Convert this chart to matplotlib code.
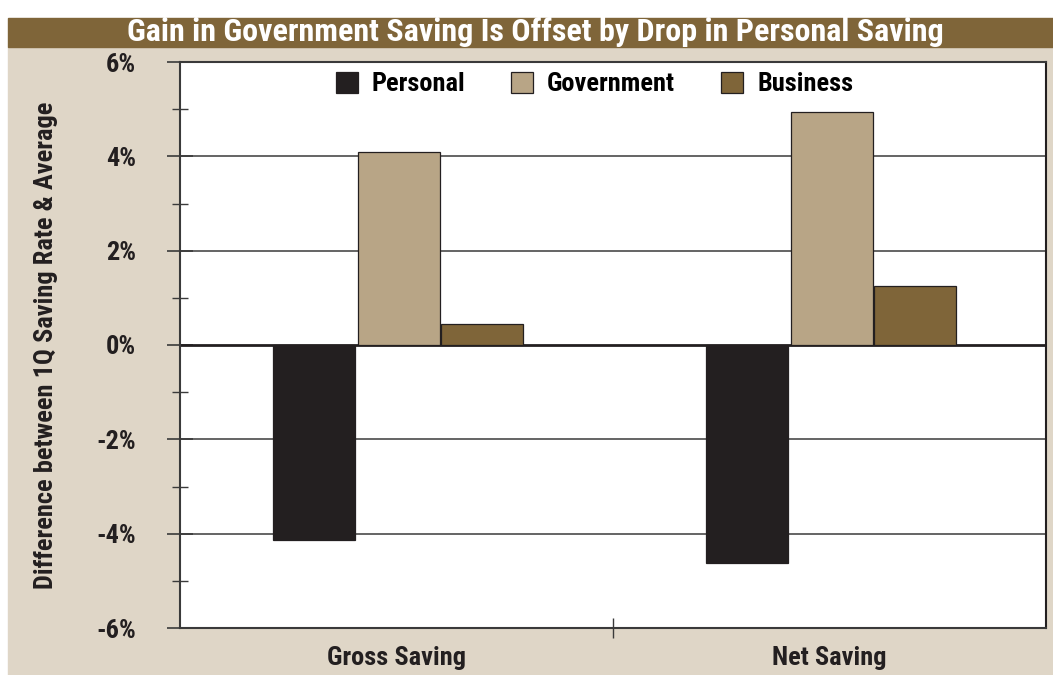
import matplotlib.pyplot as plt
import matplotlib.patches as mpatches
import numpy as np

plt.rcParams['font.family'] = ['Roboto Condensed', 'DejaVu Sans']
plt.rcParams['font.weight'] = 'bold'

categories = ['Gross Saving', 'Net Saving']
series = ['Personal', 'Government', 'Business']
personal = [-4.13, -4.63]
government = [4.1, 4.93]
business = [0.45, 1.25]
colors = ['#231F20', '#B8A586', '#7F6539']

bg = '#DFD6C7'
fig = plt.figure(figsize=(10.53, 6.75), dpi=100)

# beige panel and brown title bar
fig.patches.append(mpatches.Rectangle((8/1053, 0), 1, 628/675, transform=fig.transFigure,
                                      color=bg, zorder=-2))
fig.patches.append(mpatches.Rectangle((8/1053, 628/675), 1, 29/675, transform=fig.transFigure,
                                      color='#7F6539', zorder=-2))
fig.text(535/1053, 643/675, 'Gain in Government Saving Is Offset by Drop in Personal Saving',
         color='white', fontsize=23, fontweight='bold', ha='center', va='center')

ax = fig.add_axes([180/1053, 47/675, 866/1053, 566/675])
ax.set_facecolor('white')

x = np.arange(len(categories))
w = 0.19
offs = [-0.19, 0.005, 0.198]
for vals, off, c, name in zip([personal, government, business], offs, colors, series):
    ax.bar(x + off, vals, w, color=c, edgecolor='#231F20', linewidth=0.9, label=name, zorder=3)

ax.set_xlim(-0.5, 1.5)
ax.set_ylim(-6, 6)
ax.set_yticks(np.arange(-6, 7, 2))
ax.set_yticks(np.arange(-5, 6, 2), minor=True)
ax.set_yticklabels([f'{v}%' for v in range(-6, 7, 2)])
for v in [-4, -2, 2, 4]:
    ax.axhline(v, color='#3a3a3a', linewidth=1.1, zorder=1)
ax.axhline(0, color='#231F20', linewidth=2, zorder=2)

ax.set_xticks([0.5], minor=True)
ax.set_xticks(x)
ax.set_xticklabels(categories)
ax.tick_params(axis='x', which='major', length=0, pad=13, labelsize=19)
ax.tick_params(axis='x', which='minor', direction='inout', length=14, width=1, color='#3a3a3a')
ax.tick_params(axis='y', which='major', direction='inout', length=19, width=1.2,
               color='#3a3a3a', pad=22, labelsize=19)
ax.tick_params(axis='y', which='minor', direction='inout', length=12, width=1, color='#3a3a3a')
for t in ax.get_xticklabels() + ax.get_yticklabels():
    t.set_fontweight('bold')
    t.set_color('#231F20')

for s in ax.spines.values():
    s.set_color('#3a3a3a')
    s.set_linewidth(1.5)
ax.spines['right'].set_color('#231F20')

ax.set_ylabel('Difference between 1Q Saving Rate & Average', fontsize=19,
              fontweight='bold', color='#231F20', labelpad=28)

ax.legend(loc='center', bbox_to_anchor=(0.4787, 0.961), ncol=3, frameon=False,
          handlelength=0.83, handleheight=0.83, handletextpad=0.53,
          columnspacing=1.75, borderaxespad=0, prop={'weight': 'bold', 'size': 19})

fig.savefig('out.png', dpi=100)
